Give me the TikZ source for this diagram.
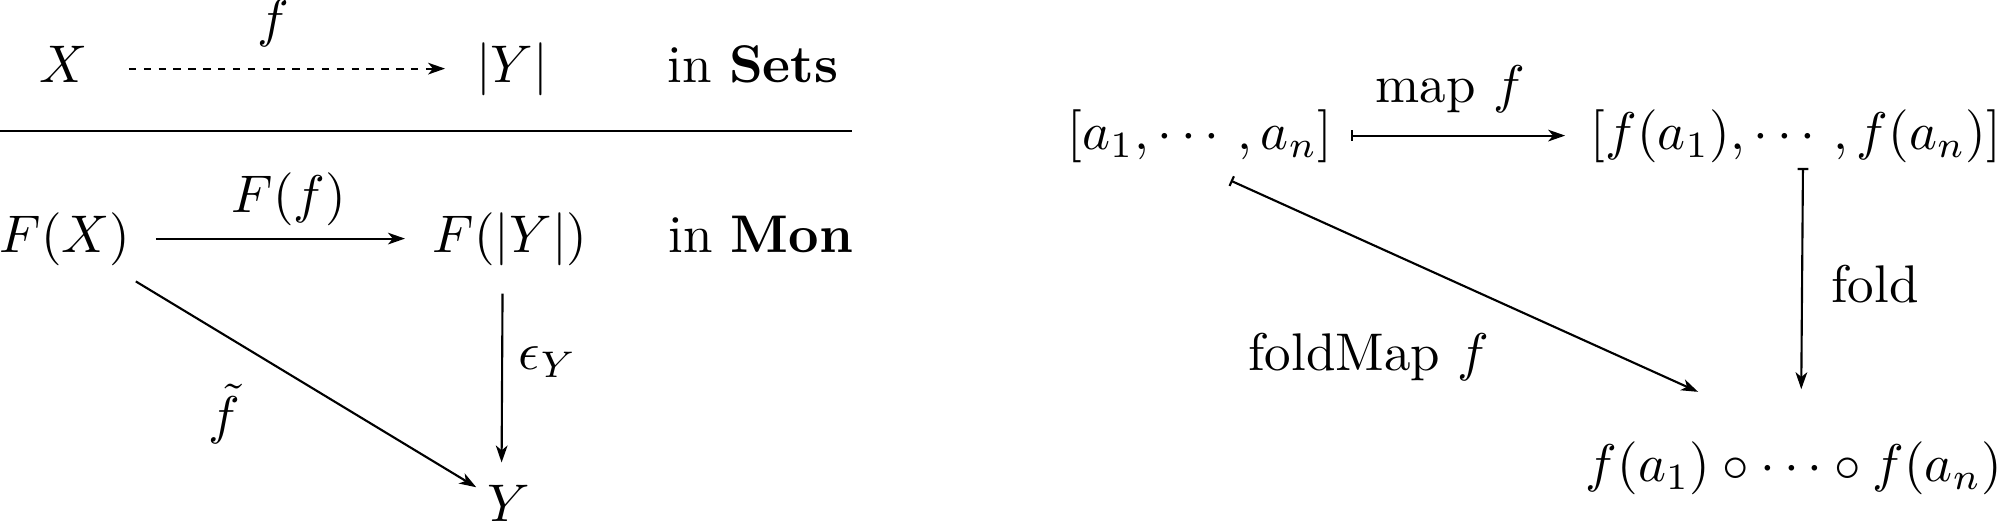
\documentclass[tikz,border=0pt]{standalone}
\usepackage{amsmath,amssymb}
\usetikzlibrary{arrows.meta}
\begin{document}
\begin{tikzpicture}[
  every node/.style={text height=1.5ex, text depth=.25ex},
  arr/.style={-{Stealth[length=3.2pt,width=2.2pt,inset=0.9pt]}},
  mapsto/.style={{Bar[width=2pt]}-{Stealth[length=3.2pt,width=2.2pt,inset=0.9pt]}}]
\useasboundingbox (0,0) rectangle (13.255,3.461);
% links: Sets over Mon
\begin{scope}
\node (X) at (0.424,3.006) {$X$};
\node (UY) at (3.395,3.006) {$|Y|$};
\node (sets) at (4.993,3.006) {in $\mathbf{Sets}$};
\draw (0,2.593) -- (5.65,2.593);
\node (FX) at (0.431,1.879) {$F(X)$};
\node (FUY) at (3.382,1.879) {$F(|Y|)$};
\node (mon) at (5.046,1.879) {in $\mathbf{Mon}$};
\node (Y) at (3.375,0.099) {$Y$};
\draw[arr, dash pattern=on 1.4pt off 1.4pt, shorten <=4.2pt, shorten >=2.3pt] (X) -- (UY);
\draw[arr, shorten <=1.3pt, shorten >=1.7pt] (FX) -- (FUY);
\draw[arr, shorten <=3.1pt, shorten >=1.1pt] ([xshift=-1.4pt]FUY.south) -- ([xshift=-1.4pt]Y.north);
\draw[arr, shorten <=1.5pt, shorten >=-1.6pt] (FX) -- (Y);
\node (f) at (1.81,3.311) {$f$};
\node (Ff) at (1.916,2.144) {$F(f)$};
\node (eps) at (3.634,1.103) {$\epsilon_Y$};
\node (ft) at (1.49,0.683) {$\tilde{f}$};
\end{scope}
% rechts: foldMap
\begin{scope}
\node (la) at (7.957,2.562) {$[a_1,\cdots,a_n]$};
\node (lf) at (11.909,2.562) {$[f(a_1),\cdots,f(a_n)]$};
\node (fm) at (11.896,0.36) {$f(a_1)\circ\cdots\circ f(a_n)$};
\draw[mapsto, shorten >=1.3pt] (la) -- (lf);
\draw[mapsto, shorten <=-1.2pt, shorten >=7.5pt] ([xshift=1.3pt]lf.south) -- ([xshift=1.3pt]fm.north);
\draw[mapsto] ([shift={(5.8pt,-1.2pt)}]la.south) -- ([shift={(-18.1pt,7pt)}]fm.north);
\node (mapf) at (9.615,2.873) {$\text{map }f$};
\node (fold) at (12.433,1.552) {fold};
\node (foldmap) at (9.078,1.101) {$\text{foldMap }f$};
\end{scope}
\end{tikzpicture}
\end{document}
